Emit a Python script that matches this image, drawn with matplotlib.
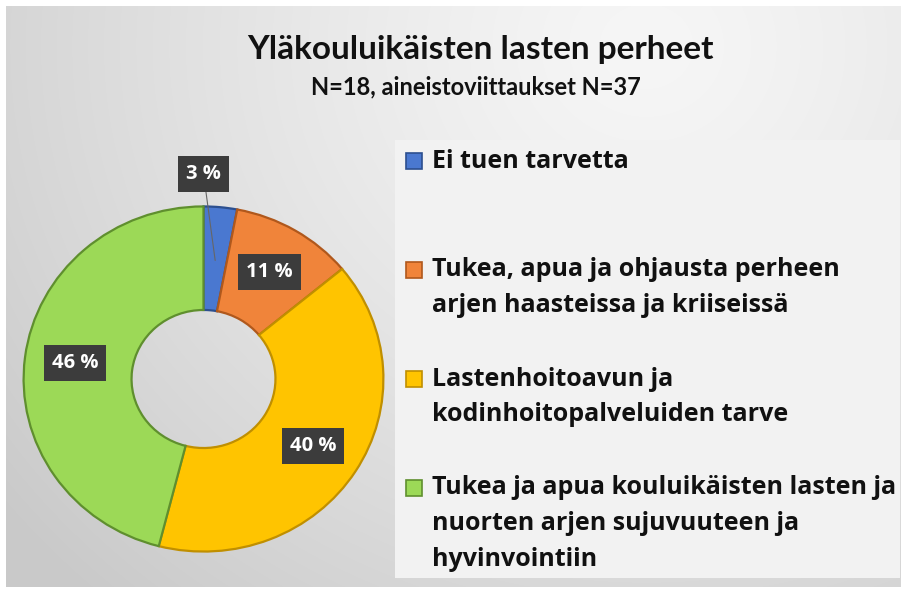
import numpy as np
import matplotlib.pyplot as plt
from matplotlib.patches import Rectangle

# data
categories = ['Ei tuen tarvetta',
              'Tukea, apua ja ohjausta perheen\narjen haasteissa ja kriiseissä',
              'Lastenhoitoavun ja\nkodinhoitopalveluiden tarve',
              'Tukea ja apua kouluikäisten lasten ja\nnuorten arjen sujuvuuteen ja\nhyvinvointiin']
shares = [3, 11, 40, 46]
colors = ['#4a78d0', '#f0843a', '#ffc400', '#9cd957']
edges = ['#2c4f8f', '#b0581c', '#c08f00', '#5f8f2e']
title = 'Yläkouluikäisten lasten perheet'
subtitle = 'N=18, aineistoviittaukset N=37'

plt.rcParams['font.family'] = ['Lato', 'DejaVu Sans']
W, H = 904, 590
fig = plt.figure(figsize=(W / 100, H / 100), dpi=100, facecolor='white')

# gray radial background
bg = fig.add_axes([6 / W, 3 / H, 895 / W, 581 / H])
yy, xx = np.mgrid[0:581, 0:895]
d = np.sqrt((xx - 640) ** 2 + ((yy - 40) * 1.1) ** 2) / 820
d = np.clip(d, 0, 1)
g = 0.965 - 0.175 * d ** 1.3
bg.imshow(np.dstack([g, g, g]), aspect='auto', interpolation='bilinear')
bg.axis('off')

# legend panel
fig.add_artist(Rectangle((395 / W, (H - 578) / H), 505 / W, 438 / H,
                         transform=fig.transFigure, fc='#f2f2f2', ec='none'))

fig.text(480 / W, 1 - 50 / H, title, ha='center', va='center',
         fontsize=24, fontweight='bold', color='#111111')
fig.text(476 / W, 1 - 87 / H, subtitle, ha='center', va='center',
         fontsize=17, fontweight='bold', color='#111111')

# donut
ax = fig.add_axes([20 / W, (H - 555) / H, 367 / W, 352 / H])
wedges, _ = ax.pie(shares, colors=colors, startangle=90, counterclock=False,
                   radius=1, wedgeprops=dict(width=0.6, linewidth=1.6))
for w, e in zip(wedges, edges):
    w.set_edgecolor(e)
ax.set_aspect('auto')
ax.set_xlim(-1.02, 1.02)
ax.set_ylim(-1.02, 1.02)
ax.axis('off')

box = dict(boxstyle='square,pad=0.4', fc='#3c3c3c', ec='none')
lab_font = dict(fontsize=14.5, fontweight='bold', color='white',
                family=['Open Sans', 'DejaVu Sans'])
for i, w in enumerate(wedges):
    ang = np.deg2rad((w.theta1 + w.theta2) / 2)
    lbl = '%d %%' % shares[i]
    if i == 0:
        ax.annotate(lbl, xy=(0.69 * np.cos(ang), 0.69 * np.sin(ang)),
                    xytext=(0, 1.19), ha='center', va='center', bbox=box,
                    arrowprops=dict(arrowstyle='-', color='#666666', lw=0.8,
                                    shrinkA=0, shrinkB=0), **lab_font)
    else:
        ax.text(0.72 * np.cos(ang), 0.72 * np.sin(ang), lbl, ha='center',
                va='center', bbox=box, **lab_font)

# legend entries
y0 = 161
for k, lab in enumerate(categories):
    yk = y0 + k * 109
    fig.add_artist(Rectangle((406 / W, (H - yk - 8) / H), 16 / W, 16 / H,
                             transform=fig.transFigure, fc=colors[k],
                             ec=edges[k], lw=1.2))
    for j, line in enumerate(lab.split('\n')):
        fig.text(432 / W, 1 - (yk + j * 35.5) / H, line, ha='left',
                 va='center', fontsize=18, fontweight='bold', color='#111111',
                 family=['Open Sans', 'DejaVu Sans'])

fig.savefig('out.png', dpi=100)
